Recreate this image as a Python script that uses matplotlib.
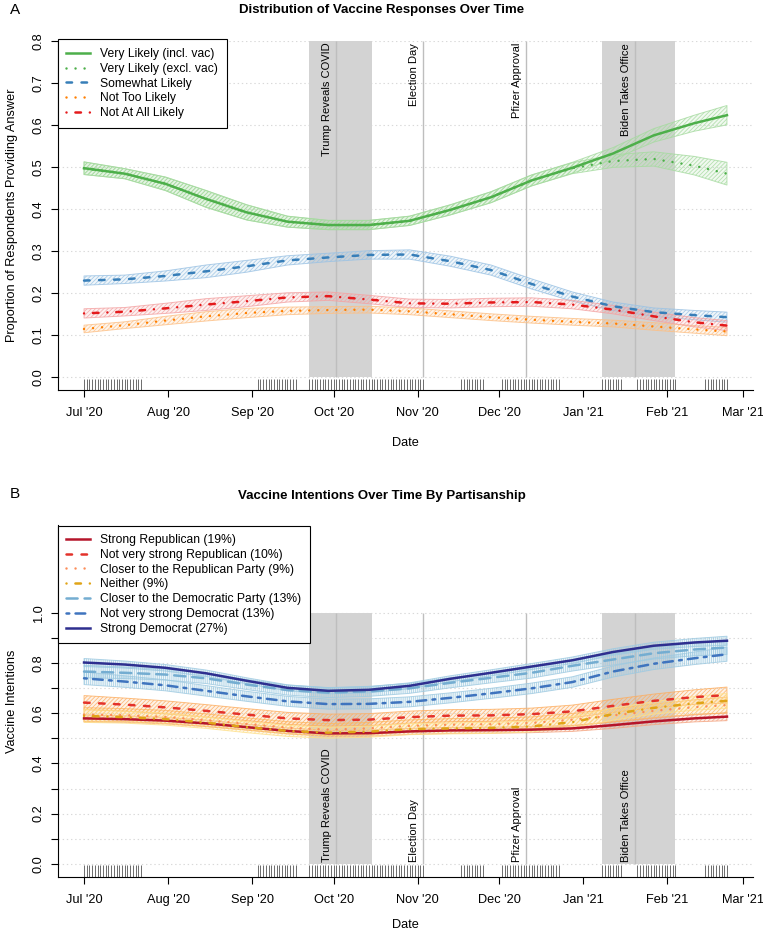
import numpy as np
import pandas as pd
import matplotlib
matplotlib.use('Agg')  # no display
import matplotlib.pyplot as plt
import matplotlib.dates as mdates
from matplotlib.lines import Line2D

plt.rcParams['font.family'] = ['Liberation Sans', 'DejaVu Sans']
plt.rcParams['hatch.linewidth'] = 0.6
plt.rcParams['lines.scale_dashes'] = False

# ---------------- data ----------------
dates = pd.to_datetime(['2020-07-01', '2020-07-16', '2020-07-31', '2020-08-15', '2020-08-30',
                        '2020-09-14', '2020-09-29', '2020-10-14', '2020-10-29', '2020-11-13',
                        '2020-11-28', '2020-12-13', '2020-12-28', '2021-01-12', '2021-01-27',
                        '2021-02-11', '2021-02-23'])

# panel A: response shares
very_incl = [0.497, 0.484, 0.460, 0.424, 0.392, 0.370, 0.362, 0.362, 0.372, 0.398, 0.428, 0.468, 0.498, 0.532, 0.575, 0.604, 0.623]
very_excl = [0.497, 0.484, 0.460, 0.424, 0.392, 0.370, 0.362, 0.362, 0.372, 0.398, 0.428, 0.468, 0.497, 0.514, 0.519, 0.503, 0.484]
somewhat = [0.230, 0.233, 0.241, 0.252, 0.264, 0.278, 0.285, 0.291, 0.292, 0.276, 0.255, 0.222, 0.192, 0.169, 0.155, 0.148, 0.143]
not_too = [0.115, 0.124, 0.135, 0.145, 0.153, 0.158, 0.160, 0.161, 0.157, 0.150, 0.143, 0.137, 0.132, 0.128, 0.121, 0.114, 0.109]
not_at_all = [0.152, 0.156, 0.164, 0.173, 0.181, 0.190, 0.193, 0.185, 0.176, 0.175, 0.178, 0.179, 0.173, 0.161, 0.145, 0.131, 0.123]

very_incl_hw = [0.015, 0.012, 0.016, 0.020, 0.018, 0.013, 0.011, 0.011, 0.011, 0.012, 0.013, 0.013, 0.013, 0.014, 0.016, 0.019, 0.023]
very_excl_hw = [0.015, 0.012, 0.016, 0.020, 0.018, 0.013, 0.011, 0.011, 0.011, 0.012, 0.013, 0.013, 0.013, 0.015, 0.017, 0.022, 0.027]
somewhat_hw = [0.011, 0.010, 0.012, 0.015, 0.014, 0.011, 0.010, 0.010, 0.011, 0.012, 0.012, 0.012, 0.011, 0.010, 0.010, 0.011, 0.012]
not_too_hw = [0.009, 0.008, 0.010, 0.011, 0.011, 0.009, 0.008, 0.008, 0.008, 0.008, 0.008, 0.008, 0.008, 0.008, 0.009, 0.009, 0.010]
not_at_all_hw = [0.011, 0.010, 0.012, 0.014, 0.013, 0.011, 0.010, 0.010, 0.010, 0.010, 0.010, 0.010, 0.010, 0.010, 0.010, 0.011, 0.012]

resp_labels = ['Very Likely (incl. vac)', 'Very Likely (excl. vac)', 'Somewhat Likely',
               'Not Too Likely', 'Not At All Likely']

# panel B: vaccine intentions by party id
strong_rep = [0.580, 0.577, 0.571, 0.560, 0.545, 0.530, 0.520, 0.521, 0.528, 0.532, 0.533, 0.535, 0.540, 0.553, 0.568, 0.580, 0.587]
nvs_rep = [0.643, 0.635, 0.624, 0.610, 0.595, 0.580, 0.573, 0.575, 0.585, 0.591, 0.592, 0.597, 0.608, 0.630, 0.650, 0.665, 0.673]
closer_rep = [0.595, 0.593, 0.586, 0.573, 0.558, 0.543, 0.535, 0.540, 0.550, 0.555, 0.557, 0.562, 0.575, 0.592, 0.610, 0.625, 0.633]
neither = [0.590, 0.585, 0.577, 0.563, 0.545, 0.530, 0.523, 0.527, 0.537, 0.540, 0.542, 0.548, 0.565, 0.597, 0.622, 0.640, 0.650]
closer_dem = [0.767, 0.762, 0.755, 0.740, 0.715, 0.693, 0.683, 0.688, 0.700, 0.722, 0.742, 0.762, 0.790, 0.815, 0.840, 0.855, 0.863]
nvs_dem = [0.740, 0.727, 0.712, 0.690, 0.668, 0.648, 0.637, 0.638, 0.646, 0.662, 0.680, 0.700, 0.725, 0.767, 0.798, 0.820, 0.836]
strong_dem = [0.803, 0.795, 0.782, 0.760, 0.730, 0.702, 0.690, 0.694, 0.710, 0.738, 0.762, 0.787, 0.812, 0.845, 0.870, 0.883, 0.890]

strong_rep_hw = [0.014, 0.013, 0.013, 0.013, 0.012, 0.012, 0.012, 0.012, 0.012, 0.012, 0.012, 0.012, 0.012, 0.013, 0.013, 0.014, 0.016]
nvs_rep_hw = [0.028, 0.026, 0.026, 0.025, 0.024, 0.024, 0.024, 0.024, 0.024, 0.024, 0.024, 0.024, 0.025, 0.026, 0.027, 0.029, 0.032]
closer_rep_hw = [0.028, 0.026, 0.026, 0.025, 0.024, 0.024, 0.024, 0.024, 0.024, 0.024, 0.024, 0.024, 0.025, 0.026, 0.027, 0.029, 0.032]
neither_hw = [0.026, 0.024, 0.024, 0.023, 0.022, 0.022, 0.022, 0.022, 0.022, 0.022, 0.022, 0.022, 0.023, 0.024, 0.025, 0.027, 0.030]
closer_dem_hw = [0.025, 0.023, 0.022, 0.021, 0.020, 0.020, 0.020, 0.020, 0.020, 0.020, 0.020, 0.021, 0.021, 0.022, 0.023, 0.025, 0.028]
nvs_dem_hw = [0.025, 0.023, 0.022, 0.021, 0.020, 0.020, 0.020, 0.020, 0.020, 0.020, 0.020, 0.021, 0.021, 0.022, 0.023, 0.025, 0.028]
strong_dem_hw = [0.016, 0.014, 0.013, 0.013, 0.012, 0.012, 0.012, 0.012, 0.012, 0.012, 0.012, 0.012, 0.013, 0.013, 0.014, 0.016, 0.018]

party_labels = ['Strong Republican (19%)', 'Not very strong Republican (10%)',
                'Closer to the Republican Party (9%)', 'Neither (9%)',
                'Closer to the Democratic Party (13%)', 'Not very strong Democrat (13%)',
                'Strong Democrat (27%)']

# events
event_labels = ['Trump Reveals COVID', 'Election Day', 'Pfizer Approval', 'Biden Takes Office']
event_dates = pd.to_datetime(['2020-10-02', '2020-11-03', '2020-12-11', '2021-01-20'])
shade_windows = [('2020-09-22', '2020-10-15'), ('2021-01-08', '2021-02-04')]

# survey days (rug)
rug_waves = [('2020-07-01', '2020-07-22'), ('2020-09-03', '2020-09-17'), ('2020-09-22', '2020-11-03'),
             ('2020-11-17', '2020-11-25'), ('2020-12-02', '2020-12-23'), ('2021-01-08', '2021-01-15'),
             ('2021-01-21', '2021-02-04'), ('2021-02-15', '2021-02-23')]

# ---------------- styles ----------------
LW = 1.8
styles = {
    'solid': '-',
    'dashed': (0, (4.0, 6.8)),
    'dotted': (0, (0.01, 6.5)),
    'dotdash': (0, (0.01, 6.4, 4.0, 6.4)),
    'longdash': (0, (8.0, 5.0)),
    'twodash': (0, (2.0, 4.5, 7.0, 4.5)),
}

resp_series = [very_incl, very_excl, somewhat, not_too, not_at_all]
resp_hw = [very_incl_hw, very_excl_hw, somewhat_hw, not_too_hw, not_at_all_hw]
resp_colors = ['#4DAF4A', '#4DAF4A', '#377EB8', '#FF7F00', '#E41A1C']
resp_band = ['#A6DBA0', '#A6DBA0', '#9CC3E4', '#FDC086', '#F4A3A3']
resp_ls = ['solid', 'dotted', 'dashed', 'dotted', 'dotdash']

party_series = [strong_rep, nvs_rep, closer_rep, neither, closer_dem, nvs_dem, strong_dem]
party_hw = [strong_rep_hw, nvs_rep_hw, closer_rep_hw, neither_hw, closer_dem_hw, nvs_dem_hw, strong_dem_hw]
party_colors = ['#B5152B', '#E3322B', '#FC8D59', '#E0A417', '#74ADD1', '#3F74BE', '#2E2F8F']
party_band = ['#F4A582', '#FDAE61', '#FDB863', '#FEE08B', '#9ECAE1', '#9ECAE1', '#9ECAE1']
party_hatch = ['/', '/', '/', '/', '|', '|', '|']
party_ls = ['solid', 'dashed', 'dotted', 'dotdash', 'longdash', 'twodash', 'solid']

FS = 9.2
LEGFS = 8.7
EVFS = 8
x0 = pd.Timestamp('2020-07-01')
xlim = (mdates.date2num(x0 - pd.Timedelta(days=9.6)), mdates.date2num(x0 + pd.Timedelta(days=246.6)))
month_ticks = pd.date_range('2020-07-01', '2021-03-01', freq='MS')
rug_days = pd.DatetimeIndex(np.concatenate([pd.date_range(a, b, freq='D').values for a, b in rug_waves]))

W, H = 763, 934
fig = plt.figure(figsize=(W / 100, H / 100), dpi=100)


def px_axes(left, top, right, bottom):
    return fig.add_axes([left / W, 1 - bottom / H, (right - left) / W, (bottom - top) / H])


def setup_axes(ax, ylim, ytop, yticks, ylabels, ylab, xlabpad):
    ax.set_xlim(*xlim)
    ax.set_ylim(*ylim)
    for s in ['top', 'right']:
        ax.spines[s].set_visible(False)
    for s in ['left', 'bottom']:
        ax.spines[s].set_linewidth(0.8)
    ax.set_xticks(month_ticks)
    ax.xaxis.set_major_formatter(mdates.DateFormatter("%b '%y"))
    ax.set_yticks(yticks)
    ax.set_yticklabels(ylabels, rotation=90, va='center')
    ax.tick_params(axis='both', length=5, width=0.8, labelsize=FS)
    ax.tick_params(axis='x', pad=7.5)
    ax.tick_params(axis='y', pad=4.5)
    ax.set_xlabel('Date', fontsize=FS, labelpad=xlabpad)
    ax.set_ylabel(ylab, fontsize=FS, labelpad=10.5)
    for g in yticks:
        ax.axhline(g, color='#D9D9D9', lw=0.8, ls=(0, (1, 2)), zorder=0)
    # event shading and lines
    for a, b in shade_windows:
        ax.fill_between([pd.Timestamp(a), pd.Timestamp(b)], 0, ytop, color='#D3D3D3', lw=0, zorder=1)
    ax.vlines(event_dates, 0, ytop, color='#BEBEBE', lw=1, zorder=1.5)
    # rug
    ax.vlines(rug_days, ylim[0], -0.004, color='#555555', lw=0.6, zorder=2)


def draw_series(ax, y, hw, color, band, hatch, ls):
    y = np.array(y)
    hw = np.array(hw)
    ax.fill_between(dates, y - hw, y + hw, facecolor=band, alpha=0.15, edgecolor='none', zorder=3)
    ax.fill_between(dates, y - hw, y + hw, facecolor='none', edgecolor=band, hatch=hatch,
                    lw=0.7, alpha=0.8, zorder=3)
    ax.plot(dates, y, color=color, lw=LW, ls=styles[ls], dash_capstyle='round', zorder=4)


def make_legend(ax, handles, labels, top_px):
    leg = ax.legend(handles, labels, loc='upper left', bbox_to_anchor=(58 / W, 1 - top_px / H),
                    bbox_transform=fig.transFigure, borderaxespad=0, fontsize=LEGFS, fancybox=False,
                    edgecolor='black', framealpha=1, handlelength=1.98, handletextpad=0.83,
                    labelspacing=0.23, borderpad=0.7)
    leg.get_frame().set_linewidth(0.8)
    leg.set_zorder(10)
    return leg


# ---------------- panel A ----------------
axA = px_axes(58, 40.7, 753, 390)
setup_axes(axA, (-0.030, 0.8), 0.8, np.arange(0, 0.81, 0.1),
           ['0.0', '0.1', '0.2', '0.3', '0.4', '0.5', '0.6', '0.7', '0.8'],
           'Proportion of Respondents Providing Answer', 13)
for y, hw, c, b, ls in zip(resp_series, resp_hw, resp_colors, resp_band, resp_ls):
    draw_series(axA, y, hw, c, b, '/' * 8, ls)
for lab, d in zip(event_labels, event_dates):
    axA.text(d - pd.Timedelta(days=3.4), 0.795, lab, rotation=90, ha='center', va='top', fontsize=EVFS, zorder=5)

handlesA = [Line2D([], [], color=c, lw=LW, ls=styles[ls], dash_capstyle='round')
            for c, ls in zip(resp_colors, resp_ls)]
make_legend(axA, handlesA, resp_labels, 39.5)

# ---------------- panel B ----------------
axB = px_axes(58, 525, 753, 876.7)
setup_axes(axB, (-0.052, 1.352), 1.0, np.arange(0, 1.01, 0.1),
           ['0.0', '', '0.2', '', '0.4', '', '0.6', '', '0.8', '', '1.0'],
           'Vaccine Intentions', 9.5)
for y, hw, c, b, h, ls in zip(party_series, party_hw, party_colors, party_band, party_hatch, party_ls):
    draw_series(axB, y, hw, c, b, h * 8, ls)
for lab, d in zip(event_labels, event_dates):
    axB.text(d - pd.Timedelta(days=3.4), 0.005, lab, rotation=90, ha='center', va='bottom', fontsize=EVFS, zorder=5)

handlesB = [Line2D([], [], color=c, lw=LW, ls=styles[ls], dash_capstyle='round')
            for c, ls in zip(party_colors, party_ls)]
make_legend(axB, handlesB, party_labels, 525.7)

# titles
fig.text(10 / W, 1 - 10 / H, 'A', fontsize=11, va='center', ha='left')
fig.text(381.5 / W, 1 - 10 / H, 'Distribution of Vaccine Responses Over Time', fontsize=9.5,
         weight='bold', ha='center', va='center')
fig.text(10 / W, 1 - 494 / H, 'B', fontsize=11, va='center', ha='left')
fig.text(381.5 / W, 1 - 496.5 / H, 'Vaccine Intentions Over Time By Partisanship', fontsize=9.5,
         weight='bold', ha='center', va='center')

fig.savefig('out.png', dpi=100)
